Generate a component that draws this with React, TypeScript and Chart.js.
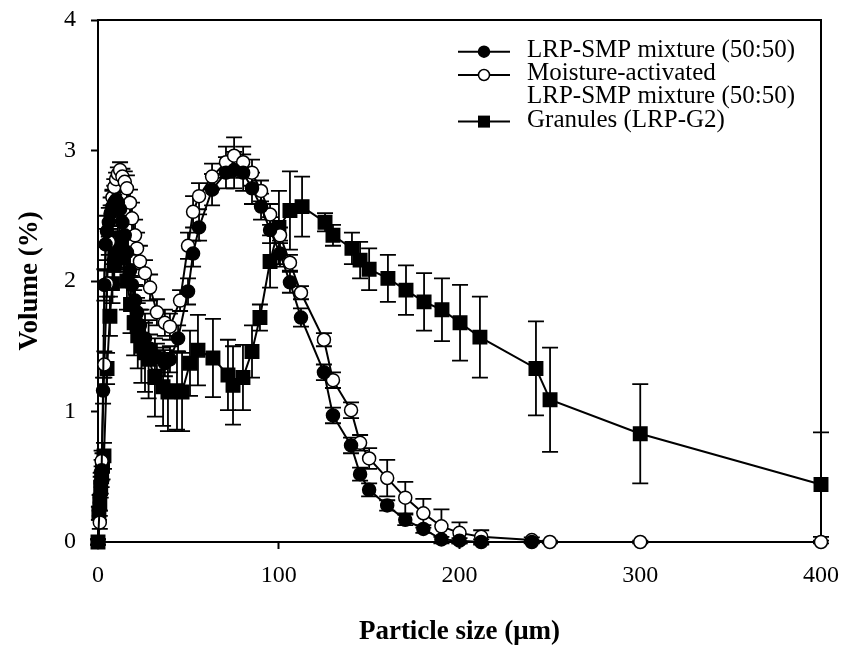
import React, { useEffect, useRef } from 'react';
import { Chart, registerables } from 'chart.js';

Chart.register(...registerables);

const FONT = '"Liberation Serif", "Times New Roman", Times, serif';

// LRP-SMP mixture (50:50) — filled circles
const mixX = [0, 1, 1.5, 2, 2.8, 3.5, 4.2, 5, 6, 7, 8, 9, 10, 11, 12.2, 13.5, 14.8, 16, 17.7, 18.8, 20.5, 21.6, 23.2, 26, 28.8, 32.6, 37, 39.8, 44.3, 49.8, 52.6, 55.9, 63.1, 70.8, 75.3, 80.3, 85.2, 90.2, 95.2, 100.7, 106.2, 112.3, 125, 130, 140, 145, 150, 160, 170, 180, 190, 200, 212, 240];
const mixY = [0, 0.3, 0.45, 0.55, 1.16, 1.97, 2.28, 2.38, 2.45, 2.52, 2.57, 2.6, 2.62, 2.6, 2.55, 2.45, 2.35, 2.22, 2.08, 1.97, 1.85, 1.76, 1.66, 1.56, 1.48, 1.42, 1.37, 1.4, 1.56, 1.92, 2.21, 2.41, 2.7, 2.83, 2.85, 2.83, 2.71, 2.57, 2.39, 2.21, 1.99, 1.72, 1.3, 0.97, 0.74, 0.52, 0.4, 0.28, 0.17, 0.1, 0.02, 0.01, 0, 0];
const mixErr = [0.02, 0.06, 0.08, 0.08, 0.1, 0.12, 0.12, 0.12, 0.11, 0.12, 0.12, 0.13, 0.12, 0.12, 0.13, 0.12, 0.12, 0.13, 0.12, 0.12, 0.12, 0.11, 0.12, 0.12, 0.11, 0.1, 0.1, 0.1, 0.1, 0.1, 0.1, 0.1, 0.12, 0.12, 0.14, 0.14, 0.12, 0.1, 0.1, 0.1, 0.08, 0.07, 0.06, 0.06, 0.06, 0.05, 0.05, 0.04, 0.04, 0.03, 0.02, 0.02, 0.02, 0.01];

// Moisture-activated LRP-SMP mixture (50:50) — open circles
const maX = [0, 1, 2, 3.5, 5, 6, 7, 8, 9, 10, 11, 12.2, 13.5, 14.8, 16, 17.7, 18.8, 20.5, 21.6, 23.2, 26, 28.8, 32.6, 37, 39.8, 45.4, 49.8, 52.6, 55.9, 63.1, 70.8, 75.3, 80.3, 85.2, 90.2, 95.2, 100.7, 106.2, 112.3, 125, 130, 140, 145, 150, 160, 170, 180, 190, 200, 212, 240, 250, 300, 400];
const maY = [0, 0.15, 0.62, 1.36, 1.98, 2.3, 2.5, 2.64, 2.72, 2.78, 2.82, 2.85, 2.8, 2.76, 2.71, 2.6, 2.48, 2.35, 2.25, 2.15, 2.06, 1.95, 1.76, 1.68, 1.65, 1.85, 2.27, 2.53, 2.65, 2.8, 2.91, 2.96, 2.91, 2.83, 2.69, 2.51, 2.35, 2.14, 1.91, 1.55, 1.24, 1.01, 0.76, 0.64, 0.49, 0.34, 0.22, 0.12, 0.07, 0.04, 0.015, 0, 0, 0];
const maErr = [0.02, 0.05, 0.08, 0.1, 0.1, 0.1, 0.08, 0.06, 0.06, 0.05, 0.05, 0.06, 0.06, 0.08, 0.1, 0.1, 0.12, 0.12, 0.12, 0.12, 0.1, 0.1, 0.1, 0.1, 0.1, 0.08, 0.1, 0.12, 0.1, 0.1, 0.12, 0.14, 0.12, 0.1, 0.08, 0.08, 0.06, 0.06, 0.05, 0.05, 0.06, 0.06, 0.06, 0.08, 0.14, 0.12, 0.11, 0.13, 0.08, 0.05, 0.02, 0.01, 0.01, 0.01];

// Granules (LRP-G2) — filled squares
const grX = [0, 0.5, 1, 1.5, 2, 2.5, 3.3, 5, 6.6, 8, 9, 10, 11, 12, 13, 14, 16, 18, 20, 22, 24, 26, 28, 31.5, 36, 38.7, 43.7, 46.5, 50.9, 55.3, 63.6, 71.9, 74.7, 80.2, 85.2, 89.6, 95.2, 100.1, 106.2, 112.9, 125.6, 130, 140.5, 145, 150, 160.4, 170.4, 180.4, 190.3, 200.3, 211.3, 242.3, 250.1, 300, 400];
const grY = [0, 0.22, 0.3, 0.42, 0.5, 0.58, 0.66, 1.33, 1.73, 1.98, 2.12, 2.22, 2.3, 2.33, 2.28, 2.18, 2.0, 1.82, 1.68, 1.58, 1.5, 1.45, 1.4, 1.26, 1.19, 1.15, 1.16, 1.15, 1.37, 1.47, 1.41, 1.28, 1.2, 1.26, 1.46, 1.72, 2.15, 2.41, 2.54, 2.57, 2.45, 2.35, 2.25, 2.16, 2.09, 2.02, 1.93, 1.84, 1.78, 1.68, 1.57, 1.33, 1.09, 0.83, 0.44];
const grErr = [0.02, 0.05, 0.06, 0.08, 0.08, 0.1, 0.1, 0.12, 0.15, 0.15, 0.15, 0.15, 0.16, 0.16, 0.18, 0.2, 0.22, 0.22, 0.25, 0.25, 0.28, 0.3, 0.3, 0.3, 0.3, 0.3, 0.3, 0.3, 0.25, 0.27, 0.3, 0.27, 0.3, 0.25, 0.2, 0.1, 0.2, 0.28, 0.3, 0.23, 0.07, 0.08, 0.12, 0.14, 0.16, 0.18, 0.19, 0.22, 0.24, 0.29, 0.31, 0.36, 0.4, 0.38, 0.4];

const X_TICKS = [0, 100, 200, 300, 400];
const Y_TICKS = [0, 1, 2, 3, 4];
const X_TITLE = 'Particle size (μm)';
const Y_TITLE = 'Volume (%)';
const LEGEND_LABELS = [['LRP-SMP mixture (50:50)'], ['Moisture-activated', 'LRP-SMP mixture (50:50)'], ['Granules (LRP-G2)']];
const ERRORS = [mixErr, maErr, grErr];

const errorBarPlugin = {
  id: 'errorBars',
  beforeDatasetsDraw(chart: any) {
    const { ctx } = chart;
    const xs = chart.scales.x;
    const ys = chart.scales.y;
    ctx.save();
    ctx.strokeStyle = '#000';
    ctx.lineWidth = 1.8;
    chart.data.datasets.forEach((ds: any, i: number) => {
      const errs = ERRORS[i];
      ds.data.forEach((p: any, j: number) => {
        const e = errs[j];
        if (!e) return;
        const px = xs.getPixelForValue(p.x);
        const top = ys.getPixelForValue(p.y + e);
        const bot = ys.getPixelForValue(p.y - e);
        const cap = 8;
        ctx.beginPath();
        ctx.moveTo(px, top);
        ctx.lineTo(px, bot);
        ctx.moveTo(px - cap, top);
        ctx.lineTo(px + cap, top);
        ctx.moveTo(px - cap, bot);
        ctx.lineTo(px + cap, bot);
        ctx.stroke();
      });
    });
    ctx.restore();
  },
};

const framePlugin = {
  id: 'frame',
  beforeDatasetsDraw(chart: any) {
    const { ctx, chartArea: a } = chart;
    ctx.save();
    ctx.strokeStyle = '#000';
    ctx.lineWidth = 2;
    ctx.beginPath();
    ctx.moveTo(a.left, a.top);
    ctx.lineTo(a.right, a.top);
    ctx.lineTo(a.right, a.bottom);
    ctx.stroke();
    ctx.restore();
  },
};

const legendPlugin = {
  id: 'customLegend',
  afterDraw(chart: any) {
    const { ctx, chartArea: a } = chart;
    const lx0 = a.left + 360;
    const lx1 = a.left + 412;
    const mx = (lx0 + lx1) / 2;
    const tx = a.left + 429;
    const lineH = 23.3;
    let baseline = a.top + 36.7;
    ctx.save();
    ctx.font = `25px ${FONT}`;
    ctx.fillStyle = '#000';
    ctx.textBaseline = 'alphabetic';
    ctx.textAlign = 'left';
    chart.data.datasets.forEach((ds: any, i: number) => {
      const sy = baseline - 5;
      ctx.strokeStyle = '#000';
      ctx.lineWidth = 2;
      ctx.beginPath();
      ctx.moveTo(lx0, sy);
      ctx.lineTo(lx1, sy);
      ctx.stroke();
      ctx.lineWidth = 1.5;
      if (ds.pointStyle === 'rect') {
        ctx.fillStyle = '#000';
        ctx.fillRect(mx - 6, sy - 6, 12, 12);
      } else {
        ctx.beginPath();
        ctx.arc(mx, sy, 5.5, 0, Math.PI * 2);
        ctx.fillStyle = ds.pointBackgroundColor;
        ctx.fill();
        ctx.stroke();
      }
      ctx.fillStyle = '#000';
      LEGEND_LABELS[i].forEach((t) => {
        ctx.fillText(t, tx, baseline);
        baseline += lineH;
      });
    });
    ctx.restore();
  },
};

export default function App() {
  const ref = useRef<HTMLCanvasElement>(null);
  useEffect(() => {
    document.body.style.margin = '0';
    const canvas = ref.current!;
    const pts = (xs: number[], ys: number[]) => xs.map((x, i) => ({ x, y: ys[i] }));
    const common = {
      showLine: true,
      borderColor: '#000',
      borderWidth: 2,
      pointBorderColor: '#000',
      pointBorderWidth: 1.5,
      pointHoverRadius: 0,
      clip: false as any,
      tension: 0,
    };
    const chart = new Chart(canvas, {
      type: 'scatter',
      data: {
        datasets: [
          { ...common, label: LEGEND_LABELS[0].join(' '), data: pts(mixX, mixY), pointStyle: 'circle', pointRadius: 6.5, pointBackgroundColor: '#000' },
          { ...common, label: LEGEND_LABELS[1].join(' '), data: pts(maX, maY), pointStyle: 'circle', pointRadius: 6.5, pointBackgroundColor: '#fff' },
          { ...common, label: LEGEND_LABELS[2].join(' '), data: pts(grX, grY), pointStyle: 'rect', pointRadius: 9.5, pointBackgroundColor: '#000' },
        ] as any,
      },
      options: {
        responsive: false,
        animation: false,
        devicePixelRatio: 1,
        events: [],
        layout: { padding: { left: 0, right: 22, top: 20, bottom: 0 } },
        plugins: { legend: { display: false }, tooltip: { enabled: false } },
        scales: {
          x: {
            type: 'linear',
            min: 0,
            max: 400,
            afterBuildTicks: (s: any) => { s.ticks = X_TICKS.map((v) => ({ value: v })); },
            afterFit: (s: any) => { s.height = 111; s.paddingLeft = 0; s.paddingRight = 0; },
            grid: { drawOnChartArea: false, drawTicks: true, tickLength: 7, tickWidth: 2, tickColor: '#000' },
            border: { display: true, color: '#000', width: 2 },
            ticks: { color: '#000', font: { family: FONT, size: 24 }, padding: 12, maxRotation: 0, autoSkip: false },
            title: { display: true, text: X_TITLE, color: '#000', font: { family: FONT, size: 27, weight: 'bold' }, padding: { top: 0, bottom: 5 } },
          },
          y: {
            type: 'linear',
            min: 0,
            max: 4,
            afterBuildTicks: (s: any) => { s.ticks = Y_TICKS.map((v) => ({ value: v })); },
            afterFit: (s: any) => { s.width = 98; s.paddingTop = 0; s.paddingBottom = 0; },
            grid: { drawOnChartArea: false, drawTicks: true, tickLength: 7, tickWidth: 2, tickColor: '#000' },
            border: { display: true, color: '#000', width: 2 },
            ticks: { color: '#000', font: { family: FONT, size: 24 }, padding: 15, autoSkip: false },
            title: { display: true, text: Y_TITLE, color: '#000', font: { family: FONT, size: 27, weight: 'bold' }, padding: { top: 14, bottom: 0 } },
          },
        },
      } as any,
      plugins: [framePlugin, errorBarPlugin, legendPlugin],
    });
    return () => chart.destroy();
  }, []);
  return (
    <div style={{ position: 'absolute', left: 0, top: 0, width: 843, height: 653, background: '#fff' }}>
      <canvas ref={ref} width={843} height={653} style={{ display: 'block', width: 843, height: 653 }} />
    </div>
  );
}
